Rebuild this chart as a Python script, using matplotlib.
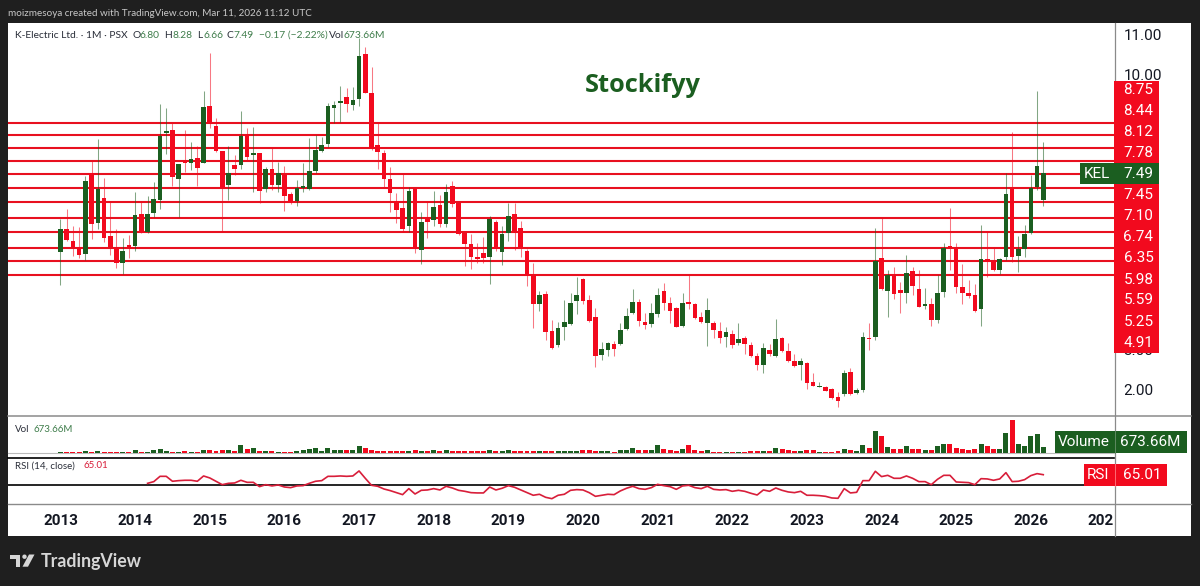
# K-Electric monthly chart, TradingView style
import matplotlib
matplotlib.use("Agg")
import matplotlib.pyplot as plt
from matplotlib.patches import Rectangle, Polygon, Circle

W, H = 1200, 586

# Monthly bars from Jan 2013
opens = [5.49,6.06,5.77,5.60,5.43,7.48,6.21,6.85,5.90,5.59,
         5.20,5.67,5.64,6.45,5.98,6.48,6.80,8.51,8.58,7.34,
         7.80,7.75,7.88,7.73,9.19,8.69,8.05,7.18,7.68,7.69,
         8.44,7.95,8.00,7.08,7.60,7.18,7.44,6.95,6.78,7.10,
         7.09,7.54,8.05,8.23,9.13,9.26,9.41,9.21,9.36,10.52,
         9.53,8.20,7.99,7.34,6.78,6.59,6.15,7.07,5.53,6.33,
         6.30,6.68,6.19,7.16,6.73,5.97,5.69,5.36,5.46,5.35,
         6.25,5.48,5.97,6.44,6.10,5.50,4.89,4.15,4.41,3.48,
         3.11,3.59,3.65,4.25,4.79,4.26,3.84,2.87,3.00,3.15,
         3.14,3.52,3.93,4.21,3.71,3.65,3.91,4.49,4.18,4.06,
         3.61,4.21,4.15,3.83,3.69,3.69,3.47,3.32,3.40,3.17,
         3.31,3.13,2.85,2.61,3.00,2.85,3.30,2.96,2.72,2.61,
         2.66,2.19,2.06,2.06,2.00,1.81,1.89,2.44,1.90,1.98,
         3.30,3.33,5.34,4.50,4.90,4.51,4.45,4.99,4.55,4.11,
         4.15,3.76,4.47,5.64,5.59,4.59,4.45,4.39,4.03,5.31,
         5.26,5.03,5.36,7.10,5.39,5.56,5.96,7.14,6.80]
highs = [6.31,6.57,6.15,6.11,7.41,7.80,8.34,7.35,6.78,6.06,
         5.83,5.91,7.00,6.76,6.90,7.27,9.24,9.14,8.79,7.72,
         8.58,8.27,8.16,9.58,10.54,8.88,8.05,8.16,7.94,9.06,
         8.62,8.66,8.00,7.65,8.11,7.77,7.67,7.01,7.31,7.75,
         8.37,8.45,8.39,9.26,9.32,9.70,9.64,9.66,10.91,10.69,
         10.19,8.79,8.07,7.65,6.99,7.49,7.14,7.07,6.50,6.76,
         7.04,6.93,7.21,7.28,6.73,6.00,5.94,5.70,5.87,6.40,
         6.30,6.14,6.73,6.72,6.28,5.55,5.21,4.50,4.50,3.76,
         3.71,4.26,4.45,4.86,4.81,4.39,4.05,3.19,3.21,3.22,
         3.67,4.05,4.54,4.28,3.93,4.20,4.56,4.70,4.35,4.08,
         4.43,4.90,4.18,3.97,4.31,3.73,3.70,3.59,3.49,3.67,
         3.35,3.21,2.91,3.18,3.15,3.77,3.33,3.17,2.89,2.80,
         2.70,2.40,2.19,2.09,2.03,1.94,2.49,2.53,2.03,3.44,
         3.69,6.09,6.34,5.03,5.09,4.73,5.41,5.11,5.03,4.56,
         4.31,4.90,5.70,6.59,5.70,5.18,4.77,4.67,6.17,6.02,
         5.58,5.34,7.49,8.52,5.89,6.17,7.44,9.58,8.28]
lows = [4.64,5.76,5.38,5.34,5.28,5.81,6.06,5.74,5.41,5.07,
        4.92,5.32,5.52,5.97,5.97,6.36,6.57,7.96,7.16,6.36,
        7.52,7.56,7.16,7.73,8.64,8.03,6.00,6.80,7.44,7.58,
        7.82,7.01,6.73,7.01,7.06,7.01,6.53,6.70,6.66,7.01,
        7.06,7.49,8.03,8.14,8.75,8.79,9.04,9.09,9.19,9.51,
        8.07,7.58,7.10,6.50,6.21,6.00,6.00,5.46,5.18,5.83,
        6.14,6.11,6.12,6.62,5.91,5.13,5.04,5.20,5.20,4.66,
        5.52,5.15,5.77,5.53,5.35,4.62,3.56,3.99,3.25,3.02,
        3.08,3.25,3.63,3.91,4.16,3.71,2.57,2.74,2.83,2.83,
        3.12,3.50,3.90,3.60,3.54,3.57,3.82,4.01,3.67,3.58,
        3.57,4.04,3.79,3.67,3.10,3.29,3.17,3.08,3.05,3.11,
        2.89,2.82,2.48,2.42,2.83,2.81,2.95,2.70,2.56,2.23,
        2.00,2.07,2.05,1.95,1.75,1.56,1.84,1.85,1.87,1.94,
        2.99,3.25,4.52,3.82,4.28,3.93,4.18,4.39,4.09,4.03,
        3.61,3.69,4.35,5.03,4.43,4.16,4.31,3.97,3.61,4.84,
        5.01,4.92,5.28,5.22,4.98,5.36,5.95,7.06,6.66]
closes = [6.06,5.79,5.60,5.41,7.29,6.19,7.09,5.83,5.60,5.20,
          5.52,5.60,6.43,5.97,6.45,6.84,8.43,8.55,7.38,7.72,
          7.73,7.84,7.61,9.17,8.75,8.05,7.10,7.48,7.58,8.43,
          7.89,8.00,7.04,7.58,7.18,7.48,6.91,6.73,7.10,7.16,
          7.55,8.07,8.20,9.19,9.21,9.31,9.24,9.34,10.46,9.51,
          8.11,8.03,7.34,6.97,6.55,6.07,7.03,5.55,6.24,6.24,
          6.63,6.19,7.00,6.70,5.94,5.68,5.36,5.30,5.33,6.32,
          5.58,5.94,6.40,6.02,5.59,4.89,4.16,4.38,3.46,3.04,
          3.55,3.70,4.20,4.39,4.25,3.74,2.83,3.01,3.17,3.01,
          3.50,3.86,4.21,3.73,3.64,3.93,4.39,4.18,3.98,3.59,
          4.20,4.16,3.81,3.70,4.01,3.49,3.31,3.45,3.11,3.28,
          3.14,2.84,2.61,3.04,2.89,3.27,2.97,2.72,2.58,2.71,
          2.15,2.09,2.07,1.96,1.77,1.71,2.42,1.87,1.97,3.33,
          3.27,5.26,4.54,4.90,4.42,4.43,4.96,4.62,4.09,4.17,
          3.76,4.44,5.58,5.59,4.60,4.45,4.37,3.99,5.30,5.24,
          5.03,5.30,6.95,5.36,5.55,5.94,7.10,7.67,7.49]

# Volume in millions
volumes = [127,127,127,127,254,127,254,127,127,127,
           127,127,296,127,127,338,465,254,127,127,
           169,127,127,296,381,254,296,296,212,931,
           423,550,212,212,212,85,127,127,169,296,
           508,550,254,635,381,296,296,296,846,550,
           338,212,254,254,254,254,212,296,254,254,
           296,212,296,169,169,212,212,169,212,338,
           254,254,338,254,254,212,212,254,212,169,
           169,212,212,254,338,296,212,254,169,127,
           296,296,550,338,296,338,973,508,381,212,
           423,931,338,169,296,127,127,127,127,127,
           127,254,254,254,169,635,423,338,254,254,
           296,296,85,85,127,212,465,381,212,973,
           550,2707,2073,719,465,508,888,508,423,381,
           338,846,1142,1058,550,508,296,465,1142,804,
           465,423,2453,4145,1058,846,2073,2411,673.66]

# RSI starts at the 15th bar
rsi_start = 14
rsi_values = [52.8,55.2,62.7,62.7,55.7,56.6,57.1,57.1,55.7,63.2,
              60.4,55.7,50.9,52.8,53.3,57.1,54.2,54.2,48.1,50.9,
              49.1,50.5,47.6,46.7,49.1,49.5,52.8,55.7,56.6,62.7,
              62.7,63.2,62.7,63.2,70.3,59.9,50.0,48.6,44.8,42.5,
              39.6,36.8,45.3,37.7,42.9,43.4,45.3,43.4,48.6,46.2,
              42.9,41.5,39.6,39.2,39.2,47.6,43.4,45.8,49.5,47.2,
              43.4,39.6,35.9,37.3,33.0,31.1,35.9,37.3,42.9,43.9,
              43.4,39.6,34.4,
              35.9,37.3,36.8,42.0,45.8,48.6,45.3,44.3,46.7,51.4,
              49.5,48.1,44.3,49.1,50.0,46.7,45.3,48.6,44.3,43.4,
              43.9,41.5,42.9,41.5,38.7,36.3,43.4,41.5,46.2,42.9,
              40.6,39.6,41.5,35.9,35.9,35.4,34.4,32.1,31.6,45.3,
              39.2,40.1,56.6,56.6,69.8,62.3,64.1,59.9,59.9,63.2,
              59.9,55.2,55.2,50.9,58.5,64.1,64.1,54.7,54.2,53.8,
              50.9,59.4,59.0,57.1,59.0,67.9,55.2,55.7,58.0,63.7,
              66.5,65.01]

# Horizontal levels and the labels stacked on the price scale
levels = [8.75,8.44,8.12,7.78,7.45,7.10,6.74,6.35,5.98,5.59,5.25,4.91]
price_ticks = [2,3,10,11]
years = list(range(2013,2027))

GREEN = "#1b5e20"
RED = "#f20a1e"
BG = "#1f1f1f"
GRAY = "#8a8a8a"
SANS = "Lato"
NUM = "Roboto"

plt.rcParams["font.family"] = [SANS,"DejaVu Sans"]

def panel(left,top,right,bottom,**kw):
    return fig.add_axes([left/W,1-bottom/H,(right-left)/W,(bottom-top)/H],**kw)

def clear(ax):
    ax.patch.set_alpha(0)
    for side in ax.spines:
        ax.spines[side].set_visible(False)
    ax.tick_params(length=0)
    ax.set_xticks([])
    ax.set_yticks([])

fig = plt.figure(figsize=(W/100,H/100),dpi=100,facecolor=BG)

# Pixel layers under and over the chart
under = panel(0,0,W,H,zorder=0)
under.set_xlim(0,W)
under.set_ylim(H,0)
under.axis("off")
over = panel(0,0,W,H,zorder=5)
over.set_xlim(0,W)
over.set_ylim(H,0)
over.axis("off")

under.add_patch(Rectangle((8,22.5),1183,513.5,facecolor="white",edgecolor="none"))
under.plot([1114.5,1114.5],[22.5,536],color=GRAY,lw=0.9)
under.plot([8,1191],[416,416],color=GRAY,lw=1.1)
under.plot([8,1114],[452.8,452.8],color="#bbbbbb",lw=0.8)
under.plot([8,1191],[503.7,503.7],color=GRAY,lw=1.0)

months = list(range(len(closes)))
x_left = (8-60.5)/6.22
x_right = (1114-60.5)/6.22
up = [c >= o for o,c in zip(opens,closes)]
colors = [GREEN if u else RED for u in up]

# Candles
ax = panel(8,22.5,1114,416,zorder=2)
clear(ax)
ax.set_xlim(x_left,x_right)
ax.set_ylim(10-(416-74)/39.4,10+(74-22.5)/39.4)
ax.hlines(levels,x_left,x_right,color="#e8101f",lw=1.5,zorder=1)
ax.vlines(months,lows,highs,color=colors,lw=0.75,alpha=0.55,zorder=2)
ax.bar(months,[abs(c-o) for o,c in zip(opens,closes)],
       bottom=[min(o,c) for o,c in zip(opens,closes)],
       width=0.74,color=colors,linewidth=0,zorder=3)
ax.yaxis.tick_right()
ax.set_yticks(price_ticks)
ax.set_yticklabels(["%.2f"%p for p in price_ticks],fontsize=11,family=NUM,color="#131722")
ax.tick_params(axis="y",length=0,pad=7)

# Volume
ax_vol = panel(8,416,1114,452.8,zorder=2)
clear(ax_vol)
ax_vol.set_xlim(x_left,x_right)
ax_vol.set_ylim(0,36.8*127)
ax_vol.bar(months,volumes,width=0.8,color=colors,linewidth=0)

# RSI
ax_rsi = panel(8,458.3,1114,503.7,zorder=2)
clear(ax_rsi)
ax_rsi.set_xlim(x_left,x_right)
ax_rsi.set_ylim(50-18.4/0.707,50+27/0.707)
ax_rsi.axhline(50,color="black",lw=1.2,zorder=1)
ax_rsi.plot(months[rsi_start:],rsi_values,color="#d81e3a",lw=1.2,zorder=2)
under.plot([8,1114],[458.3,458.3],color="black",lw=1.2)

# Time axis
ax_time = panel(8,504,1114,536,zorder=2)
clear(ax_time)
ax_time.set_xlim(x_left,x_right)
ax_time.set_ylim(0,1)
for y in years:
    ax_time.text((y-2013)*12,0.47,str(y),ha="center",va="center",
                 fontsize=11,family=NUM,fontweight="bold",color="#131722")
ax_time.text(x_right,0.47,"202",ha="right",va="center",
             fontsize=11,family=NUM,fontweight="bold",color="#131722")

# Top and bottom captions on the dark frame
over.text(8.5,13,"moizmesoya created with TradingView.com, Mar 11, 2026 11:12 UTC",
          color="#c8c8c8",fontsize=7.1,va="center")
over.text(41,561,"TradingView",color="#d6d6d6",fontsize=12.8,fontweight="bold",va="center")
over.add_patch(Rectangle((10,554.5),10,4,color="#d6d6d6",lw=0))
over.add_patch(Rectangle((15.5,558),4.5,8.7,color="#d6d6d6",lw=0))
over.add_patch(Circle((24.5,556.7),2.2,color="#d6d6d6",lw=0))
over.add_patch(Polygon([(29,554.5),(34.5,554.5),(28,566.7),(22.5,566.7)],color="#d6d6d6",lw=0))

# Legend row
DARK = "#2a2e39"
VAL = "#3f7d4b"
legend_row = [(15,"K-Electric Ltd. · 1M · PSX",DARK),(132.5,"O",DARK),(139.5,"6.80",VAL),
              (164.5,"H",DARK),(172.5,"8.28",VAL),(197,"L",DARK),(203,"6.66",VAL),
              (226.5,"C",DARK),(233.5,"7.49",VAL),(259,"−0.17 (−2.22%)",VAL),
              (329,"Vol",DARK),(343.5,"673.66M",VAL)]
for x,s,c in legend_row:
    over.text(x,35.5,s,color=c,fontsize=7.4,va="center")
over.text(15,430,"Vol",color=DARK,fontsize=7,va="center")
over.text(34,430,"673.66M",color=VAL,fontsize=7,va="center")
over.text(15,466,"RSI (14, close)",color=DARK,fontsize=7,va="center")
over.text(84,466,"65.01",color="#d81e3a",fontsize=7,va="center")

over.text(643,86,"Stockifyy",color=GREEN,fontsize=18.3,fontweight="bold",
          family="Open Sans",ha="center",va="center")

# Red label stack on the price scale
stack_top = 81
stack_bottom = 352.7
over.add_patch(Rectangle((1114,stack_top),45,stack_bottom-stack_top,color=RED,lw=0))
stack_y = [89.3,110.5,131.7,152.7,194.7,215.7,236.7,258,279,300,321.3,342.7]
for y,level in zip(stack_y,levels):
    over.text(1138.5,y+0.5,"%.2f"%level,color="white",fontsize=11,family=NUM,
              ha="center",va="center")

# Last price tag
over.add_patch(Rectangle((1080,162.7),79,21.5,color=GREEN,lw=0))
over.text(1097,174,"KEL",color="white",fontsize=11,family=NUM,ha="center",va="center")
over.text(1138.5,174,"%.2f"%closes[-1],color="white",fontsize=11,family=NUM,ha="center",va="center")

# Volume and RSI tags
over.add_patch(Rectangle((1055,431),132,21.7,color=GREEN,lw=0))
over.plot([1114.5,1114.5],[431,452.7],color="#5f8a62",lw=0.7)
over.text(1084,442,"Volume",color="white",fontsize=11,family=NUM,ha="center",va="center")
over.text(1150,442,"%.2fM"%volumes[-1],color="white",fontsize=11,family=NUM,ha="center",va="center")
over.add_patch(Rectangle((1084,464),83,21.7,color=RED,lw=0))
over.plot([1114.5,1114.5],[464,485.7],color="#ff6a74",lw=0.7)
over.text(1098.5,475,"RSI",color="white",fontsize=11,family=NUM,ha="center",va="center")
over.text(1142,475,"%.2f"%rsi_values[-1],color="white",fontsize=11,family=NUM,ha="center",va="center")

fig.savefig("out.png",dpi=100,facecolor=BG)
